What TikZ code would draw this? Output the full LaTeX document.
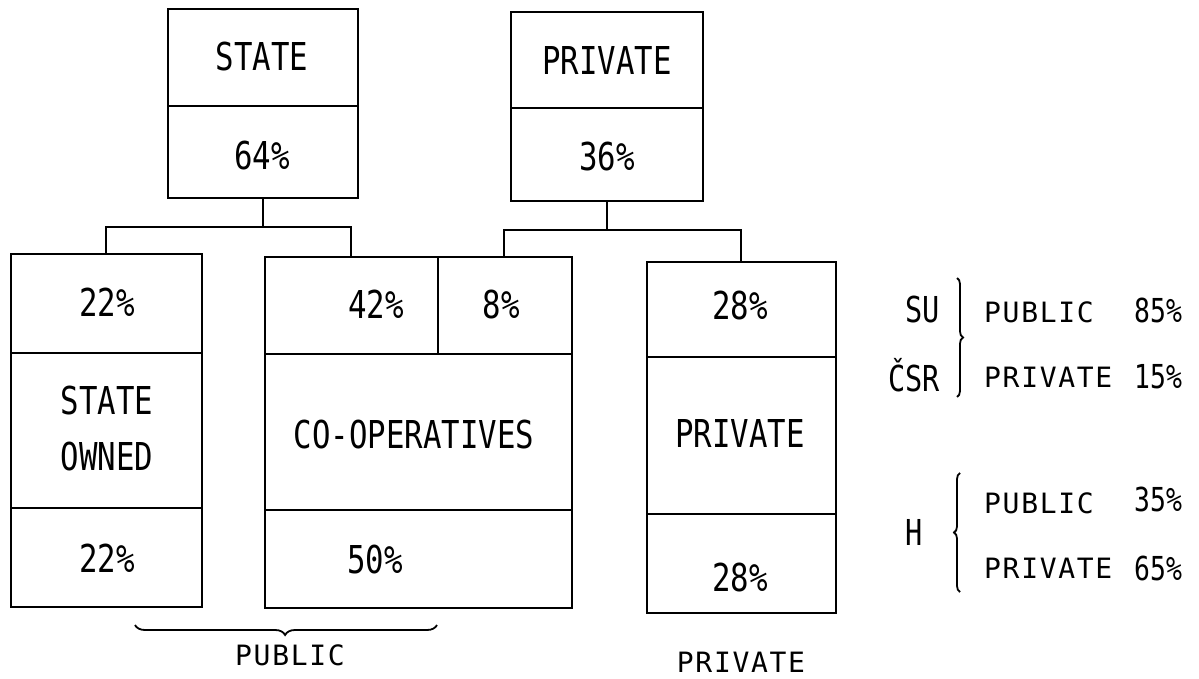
\documentclass[tikz,border=0pt]{standalone}
\usepackage{fontspec}
\usetikzlibrary{decorations.pathreplacing}
\newfontfamily\boxfont[FakeStretch=0.8]{DejaVu Sans Mono}
\newfontfamily\typefont[LetterSpace=6]{DejaVu Sans Mono}
\begin{document}
\begin{tikzpicture}[x=1pt,y=-1pt,
 cell/.style={draw, line width=2pt, inner sep=0pt, outer sep=0pt},
 conn/.style={line width=2pt},
 bt/.style={inner sep=0pt, text height=28pt, text depth=0pt, font=\boxfont\fontsize{38.4}{46}\selectfont},
 st/.style={inner sep=0pt, text height=26pt, text depth=0pt, font=\boxfont\fontsize{35.7}{43}\selectfont},
 pc/.style={inner sep=0pt, text height=24pt, text depth=0pt, font=\boxfont\fontsize{33}{40}\selectfont},
 mt/.style={inner sep=0pt, text height=20pt, text depth=0pt, font=\typefont\fontsize{28}{33}\selectfont},
 brc/.style={line width=1.8pt, decorate}
]
\useasboundingbox (0,0) rectangle (1199,679);

% top boxes
\node[cell, minimum width=190pt, minimum height=97pt] (stateT) at (263,57.5) {};
\node[cell, minimum width=190pt, minimum height=92pt] (stateB) at (263,152) {};
\node[cell, minimum width=192pt, minimum height=96pt] (privT) at (607,60) {};
\node[cell, minimum width=192pt, minimum height=93pt] (privB) at (607,154.5) {};

% state owned
\node[cell, minimum width=191pt, minimum height=99pt] (soT) at (106.5,303.5) {};
\node[cell, minimum width=191pt, minimum height=155pt] (soM) at (106.5,430.5) {};
\node[cell, minimum width=191pt, minimum height=99pt] (soB) at (106.5,557.5) {};

% co-operatives
\node[cell, minimum width=173pt, minimum height=97pt] (coT1) at (351.5,305.5) {};
\node[cell, minimum width=134pt, minimum height=97pt] (coT2) at (505,305.5) {};
\node[cell, minimum width=307pt, minimum height=156pt] (coM) at (418.5,432) {};
\node[cell, minimum width=307pt, minimum height=98pt] (coB) at (418.5,559) {};

% private
\node[cell, minimum width=189pt, minimum height=95pt] (pvT) at (741.5,309.5) {};
\node[cell, minimum width=189pt, minimum height=157pt] (pvM) at (741.5,435.5) {};
\node[cell, minimum width=189pt, minimum height=99pt] (pvB) at (741.5,563.5) {};

% texts in boxes
\node[bt] (tState) at (262,57) {STATE};
\node[bt] (t64) at (262,156) {64\%};
\node[bt] (tPriv) at (607,61) {PRIVATE};
\node[bt] (t36) at (607,157) {36\%};
\node[bt] (t22a) at (107,302) {22\%};
\node[bt] (tSO1) at (107,400) {STATE};
\node[bt] (tSO2) at (107,456) {OWNED};
\node[bt] (t22b) at (107,558) {22\%};
\node[bt] (t42) at (376,304) {42\%};
\node[bt] (t8) at (501,304) {8\%};
\node[bt] (tCoop) at (414,434) {CO-OPERATIVES};
\node[bt] (t50) at (375,559) {50\%};
\node[bt] (t28a) at (740,305) {28\%};
\node[bt] (tPv) at (740,433) {PRIVATE};
\node[bt] (t28b) at (740,577) {28\%};

% connectors
\coordinate (sL) at (106,227);
\coordinate (sR) at (351,227);
\draw[conn] (stateB.south) -- (stateB.south |- sL);
\draw[conn] (sL |- soT.north) -- (sL) -- (sR) -- (sR |- coT1.north);
\coordinate (pL) at (504,230);
\coordinate (pR) at (741,230);
\draw[conn] (privB.south) -- (privB.south |- pL);
\draw[conn] (pL |- coT2.north) -- (pL) -- (pR) -- (pR |- pvT.north);

% bottom labels
\coordinate (bA) at (135,625);
\coordinate (bB) at (437,625);
\draw[brc, decoration={brace, amplitude=10pt, aspect=0.497, mirror}] (bA) -- (bB);
\node[mt] (lPub) at (290,655) {PUBLIC};
\node[mt] (lPriv) at (741,662) {PRIVATE};

% right side
\node[st, anchor=east] (su) at (940,309) {SU};
\node[st, anchor=east] (csr) at (940,378) {ČSR};
\node[st] (h) at (914,532) {H};
\coordinate (r1) at (957,278);
\coordinate (r2) at (957,397);
\draw[brc, decoration={brace, amplitude=6pt, aspect=0.5}] (r1) -- (r2);
\coordinate (r3) at (960,473);
\coordinate (r4) at (960,592);
\draw[brc, decoration={brace, amplitude=6pt, aspect=0.5, mirror}] (r3) -- (r4);

\node[mt, anchor=west] (pub1) at (984,312) {PUBLIC};
\node[pc, anchor=west] (n85) at (1134,310) {85\%};
\node[mt, anchor=west] (pri1) at (984,377) {PRIVATE};
\node[pc, anchor=west] (n15) at (1134,376) {15\%};
\node[mt, anchor=west] (pub2) at (984,503) {PUBLIC};
\node[pc, anchor=west] (n35) at (1134,499) {35\%};
\node[mt, anchor=west] (pri2) at (984,568) {PRIVATE};
\node[pc, anchor=west] (n65) at (1134,568) {65\%};
\end{tikzpicture}
\end{document}
